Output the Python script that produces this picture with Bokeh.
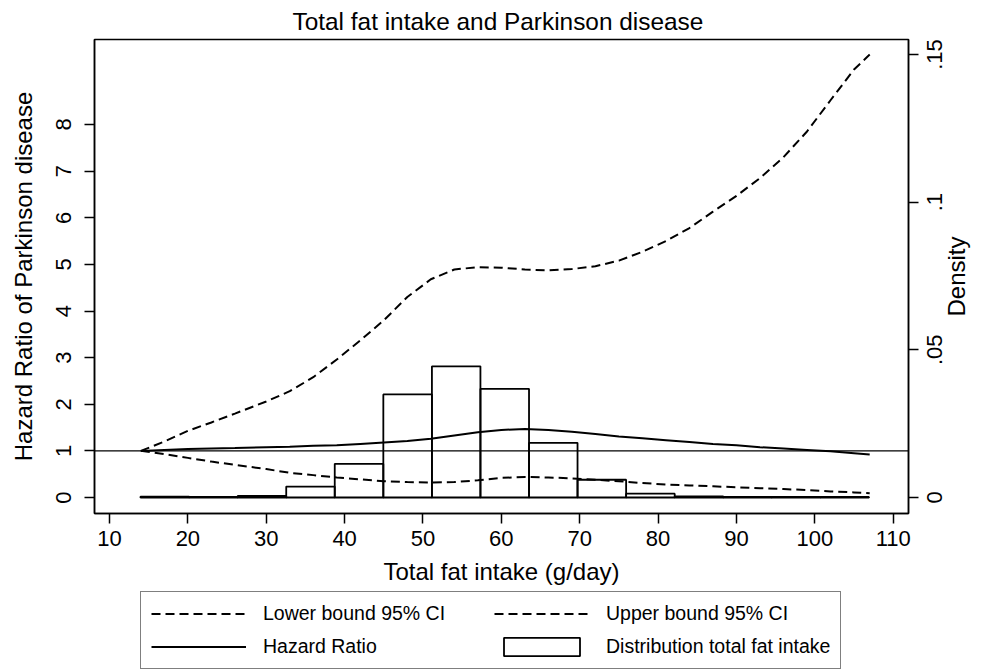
import math
from bokeh.plotting import figure
from bokeh.models import LinearAxis, Range1d, FixedTicker, Span, Legend, LegendItem
from bokeh.layouts import row, column
from bokeh.core.properties import value
from bokeh.embed import file_html
from bokeh.resources import INLINE

# ---- data ----
fat_x = [14, 17, 20, 23, 26, 30, 33, 36, 39, 42, 45, 48, 51, 54, 57, 60,
         63, 66, 69, 72, 75, 78, 81, 84, 87, 90, 93, 96, 99, 102, 105, 107]
hazard_ratio = [1.00, 1.02, 1.04, 1.05, 1.06, 1.08, 1.09, 1.11, 1.12, 1.15, 1.18, 1.21,
                1.26, 1.33, 1.40, 1.45, 1.47, 1.45, 1.41, 1.36, 1.31, 1.27, 1.23, 1.19,
                1.15, 1.12, 1.08, 1.05, 1.02, 0.99, 0.95, 0.92]
lower_ci = [1.00, 0.93, 0.85, 0.77, 0.70, 0.61, 0.53, 0.48, 0.43, 0.39, 0.35, 0.33,
            0.32, 0.33, 0.37, 0.42, 0.44, 0.43, 0.41, 0.38, 0.35, 0.31, 0.28, 0.26,
            0.24, 0.22, 0.20, 0.18, 0.16, 0.13, 0.11, 0.09]
upper_ci = [1.00, 1.20, 1.43, 1.61, 1.80, 2.06, 2.28, 2.58, 2.96, 3.37, 3.80, 4.30,
            4.68, 4.89, 4.94, 4.93, 4.89, 4.87, 4.90, 4.96, 5.08, 5.27, 5.50, 5.78,
            6.13, 6.47, 6.85, 7.30, 7.85, 8.52, 9.18, 9.50]

bin_edges = [13.96, 20.16, 26.35, 32.55, 38.74, 44.94, 51.14, 57.33, 63.53,
             69.72, 75.92, 82.12, 88.31, 94.51, 100.70, 106.90]
bin_density = [0.0003, 0.0002, 0.0005, 0.0037, 0.0114, 0.0349, 0.0444, 0.0368,
               0.0185, 0.0060, 0.0013, 0.0004, 0.0002, 0.0002, 0.0002]

x_ticks = [10, 20, 30, 40, 50, 60, 70, 80, 90, 100, 110]
hr_ticks = [0, 1, 2, 3, 4, 5, 6, 7, 8]
dens_ticks = [0, 0.05, 0.1, 0.15]
dens_tick_labels = ["0", ".05", ".1", ".15"]

FONT = "Liberation Sans"
DENS_LO, DENS_HI = -0.00542, 0.15508
NAN = float("nan")

# ---------------- main plot ----------------
p = figure(width=919, height=590, output_backend="svg", toolbar_location=None,
           x_range=Range1d(8.086, 111.95), y_range=Range1d(-0.343, 9.823),
           min_border_left=94, min_border_right=11, min_border_top=39,
           min_border_bottom=77, title="Total fat intake and Parkinson disease")
p.extra_y_ranges = {"dens": Range1d(DENS_LO, DENS_HI)}

p.title.text_font = FONT
p.title.text_font_size = "24.4px"
p.title.text_font_style = "normal"
p.title.align = "left"
p.title.offset = 198
p.title.text_color = "black"
p.title.standoff = 10

p.grid.visible = False
p.outline_line_color = "black"
p.outline_line_width = 1.5
p.background_fill_color = "white"
p.border_fill_color = "white"

hist = p.quad(left=bin_edges[:-1], right=bin_edges[1:], bottom=0, top=bin_density,
              y_range_name="dens", fill_color="white", fill_alpha=0.0,
              line_color="black", line_width=1.8)

p.add_layout(Span(location=1, dimension="width", line_color="black", line_width=1.2))

p.line(fat_x, lower_ci, line_color="black", line_width=2, line_dash="9 5")
p.line(fat_x, upper_ci, line_color="black", line_width=2, line_dash="9 5")
p.line(fat_x, hazard_ratio, line_color="black", line_width=2)


def style_axis(ax):
    ax.axis_line_color = "black"
    ax.axis_line_width = 1.5
    ax.major_tick_line_color = "black"
    ax.major_tick_line_width = 1.5
    ax.major_tick_out = 10
    ax.major_tick_in = 0
    ax.minor_tick_line_color = None
    ax.major_label_text_font = FONT
    ax.major_label_text_font_size = "22px"
    ax.major_label_text_color = "black"
    ax.axis_label_text_font = FONT
    ax.axis_label_text_font_size = "24px"
    ax.axis_label_text_font_style = "normal"
    ax.axis_label_text_color = "black"


xa = p.xaxis[0]
xa.ticker = FixedTicker(ticks=x_ticks)
xa.axis_label = "Total fat intake (g/day)"
style_axis(xa)
xa.major_label_standoff = 7
xa.axis_label_standoff = 9

ya = p.yaxis[0]
ya.ticker = FixedTicker(ticks=hr_ticks)
ya.axis_label = "Hazard Ratio of Parkinson disease"
style_axis(ya)
ya.major_label_orientation = "vertical"
ya.major_label_standoff = 13
ya.axis_label_standoff = 17

# right axis: tick marks only (labels drawn in the side panel)
ra = LinearAxis(y_range_name="dens", ticker=FixedTicker(ticks=dens_ticks))
style_axis(ra)
ra.major_label_overrides = {t: "" for t in dens_ticks}
ra.major_label_text_font_size = "1px"
ra.major_label_standoff = 0
p.add_layout(ra, "right")

# ---------------- side panel with right-axis labels ----------------
side = figure(width=56, height=590, output_backend="svg", toolbar_location=None,
              x_range=Range1d(0, 56), y_range=Range1d(DENS_LO, DENS_HI),
              x_axis_type=None, y_axis_type=None,
              min_border_left=0, min_border_right=0, min_border_top=39,
              min_border_bottom=77)
side.grid.visible = False
side.outline_line_color = None
side.border_fill_color = "white"
side.background_fill_color = "white"
side.text(x=[15] * len(dens_ticks), y=dens_ticks, text=dens_tick_labels,
          angle=math.pi / 2, text_align="center", text_baseline="middle",
          text_font=value(FONT), text_font_size="22px", text_color="black")
side.text(x=[37], y=[(DENS_LO + DENS_HI) / 2], text=["Density"],
          angle=math.pi / 2, text_align="center", text_baseline="middle",
          text_font=value(FONT), text_font_size="24px", text_color="black")

# ---------------- legend panel ----------------
leg = figure(width=975, height=81, output_backend="svg", toolbar_location=None,
             x_range=Range1d(0, 1), y_range=Range1d(0, 1),
             x_axis_type=None, y_axis_type=None,
             min_border_left=0, min_border_right=0, min_border_top=0,
             min_border_bottom=0)
leg.grid.visible = False
leg.outline_line_color = None
leg.border_fill_color = "white"
leg.background_fill_color = "white"

# legend keys only (no visible data)
k_lo = leg.line(x=[NAN], y=[NAN], line_color="black", line_width=2, line_dash="9 5")
k_up = leg.line(x=[NAN], y=[NAN], line_color="black", line_width=2, line_dash="9 5")
k_hr = leg.line(x=[NAN], y=[NAN], line_color="black", line_width=2)
k_hist = leg.quad(left=[NAN], right=[NAN], bottom=[NAN], top=[NAN], fill_color="white",
                  line_color="black", line_width=1.8)

legend = Legend(items=[
    LegendItem(label="Lower bound 95% CI", renderers=[k_lo]),
    LegendItem(label="Upper bound 95% CI", renderers=[k_up]),
    LegendItem(label="Hazard Ratio", renderers=[k_hr]),
    LegendItem(label="Distribution total fat intake", renderers=[k_hist]),
], orientation="horizontal", ncols=2, location=(140, 2))
legend.label_text_font = FONT
legend.label_text_font_size = "19.5px"
legend.label_text_color = "black"
legend.glyph_width = 95
legend.glyph_height = 23
legend.label_height = 23
legend.label_standoff = 17
legend.label_width = 221
legend.spacing = 10
legend.padding = 10
legend.margin = 0
legend.border_line_color = "black"
legend.border_line_width = 1.3
legend.background_fill_color = "white"
legend.background_fill_alpha = 1.0
leg.add_layout(legend, "center")

layout = column(row(p, side), leg)
open("out.html", "w").write(file_html(layout, INLINE))
